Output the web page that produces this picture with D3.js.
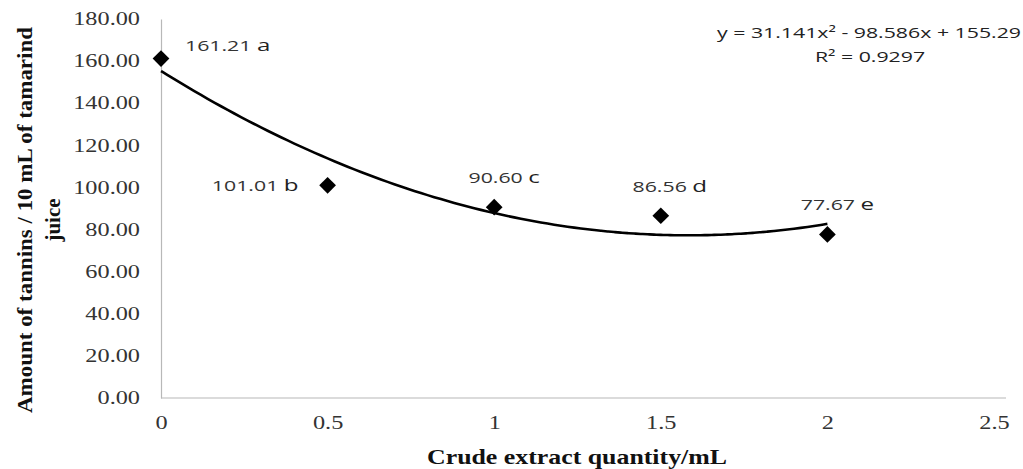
<!DOCTYPE html>
<html>
<head>
<meta charset="utf-8">
<script src="https://cdn.jsdelivr.net/npm/d3@7"></script>
<style>
  body { margin: 0; background: #fff; }
  svg { display: block; }
</style>
</head>
<body>
<script>
// data
const quantity = [0, 0.5, 1, 1.5, 2];
const tannins = [161.21, 101.01, 90.60, 86.56, 77.67];
const letters = ["a", "b", "c", "d", "e"];
const xTicks = [0, 0.5, 1, 1.5, 2, 2.5];
const yTicks = [0, 20, 40, 60, 80, 100, 120, 140, 160, 180];
// polynomial trendline as printed on the chart (c2, c1, c0)
const trendCoef = [31.141, -98.586, 155.29];
const trendText = ["y = 31.141x² - 98.586x + 155.29", "R² = 0.9297"];

// label placement: [dx, dy, anchor]
const labelPos = [[24, -13, "start"], [-29, 0, "end"], [10, -30, "middle"], [9, -29, "middle"], [10, -30, "middle"]];

var width = 1023, height = 469;
var svg = d3.select("body").append("svg").attr("width", width).attr("height", height);

var x = d3.scaleLinear().domain([0, 2.5]).range([161, 994]);
var y = d3.scaleLinear().domain([0, 180]).range([398, 19]);

var serif = "'Liberation Serif', 'Times New Roman', serif";
var sans = "'Open Sans', 'Liberation Sans', sans-serif";
var sxTick = 1.35, sxLab = 1.42;   // the original text is stretched sideways

// axes
var yAxis = svg.append("g").attr("transform", "translate(" + x(0) + ",0)")
  .call(d3.axisLeft(y).tickValues(yTicks).tickSize(0).tickPadding(21).tickFormat(d3.format(".2f")));
var xAxis = svg.append("g").attr("transform", "translate(0," + y(0) + ")")
  .call(d3.axisBottom(x).tickValues(xTicks).tickSize(0).tickPadding(18).tickFormat(d3.format("")));
[xAxis, yAxis].forEach(function(a){
  a.select(".domain").attr("stroke", "#b8b8b8").attr("stroke-width", 1.2);
  a.selectAll("text").attr("font-family", serif).attr("font-size", 18).attr("fill", "#333")
    .attr("transform", "scale(" + sxTick + ",1)");
});
yAxis.selectAll("text").attr("x", -21 / sxTick);
xAxis.select(".domain").attr("d", "M" + x(0) + ",0H1006");

// trendline
var fx = d3.range(0, 2.0001, 0.02);
var line = d3.line().x(function(d){ return x(d); })
  .y(function(d){ return y(trendCoef[0]*d*d + trendCoef[1]*d + trendCoef[2]); })
  .curve(d3.curveBasis);
svg.append("path").datum(fx).attr("d", line)
  .attr("fill", "none").attr("stroke", "#000").attr("stroke-width", 2.6);

// markers
var pts = quantity.map(function(q, i){ return { q: q, v: tannins[i], l: letters[i], p: labelPos[i] }; });
svg.append("g").selectAll("path").data(pts).enter().append("path")
  .attr("d", d3.symbol(d3.symbolSquare, 140))
  .attr("transform", function(d){ return "translate(" + x(d.q) + "," + y(d.v) + ") rotate(45)"; })
  .attr("fill", "#000");

// data labels
var lab = svg.append("g").selectAll("text").data(pts).enter().append("text")
  .attr("transform", function(d){
    return "translate(" + (x(d.q) + d.p[0]) + "," + (y(d.v) + d.p[1]) + ") scale(" + sxLab + ",1)";
  })
  .attr("dy", "0.35em")
  .attr("text-anchor", function(d){ return d.p[2]; })
  .attr("font-family", sans);
lab.append("tspan").attr("font-size", 15).attr("fill", "#333").text(function(d){ return d3.format(".2f")(d.v) + " "; });
lab.append("tspan").attr("font-size", 17).attr("fill", "#222").text(function(d){ return d.l; });

// equation
svg.append("text").attr("transform", "translate(869,33) scale(" + sxLab + ",1)").attr("dy", "0.35em")
  .attr("text-anchor", "middle")
  .attr("font-family", sans).attr("font-size", 15).attr("fill", "#222").text(trendText[0]);
svg.append("text").attr("transform", "translate(870,57) scale(" + sxLab + ",1)").attr("dy", "0.35em")
  .attr("text-anchor", "middle")
  .attr("font-family", sans).attr("font-size", 15).attr("fill", "#222").text(trendText[1]);

// axis titles
svg.append("text").attr("x", 577).attr("y", 457).attr("dy", "0.35em").attr("text-anchor", "middle")
  .attr("font-family", serif).attr("font-weight", "bold").attr("font-size", 21).attr("fill", "#111")
  .attr("textLength", 300).attr("lengthAdjust", "spacingAndGlyphs").text("Crude extract quantity/mL");
var yt = svg.append("g").attr("transform", "translate(25,220) rotate(-90)");
yt.append("text").attr("text-anchor", "middle").attr("dy", "0.35em")
  .attr("font-family", serif).attr("font-weight", "bold").attr("font-size", 21).attr("fill", "#111")
  .attr("textLength", 386).attr("lengthAdjust", "spacingAndGlyphs").text("Amount of tannins / 10 mL of tamarind");
yt.append("text").attr("text-anchor", "middle").attr("dy", "0.35em").attr("y", 28)
  .attr("font-family", serif).attr("font-weight", "bold").attr("font-size", 21).attr("fill", "#111")
  .text("juice");
</script>
</body>
</html>
